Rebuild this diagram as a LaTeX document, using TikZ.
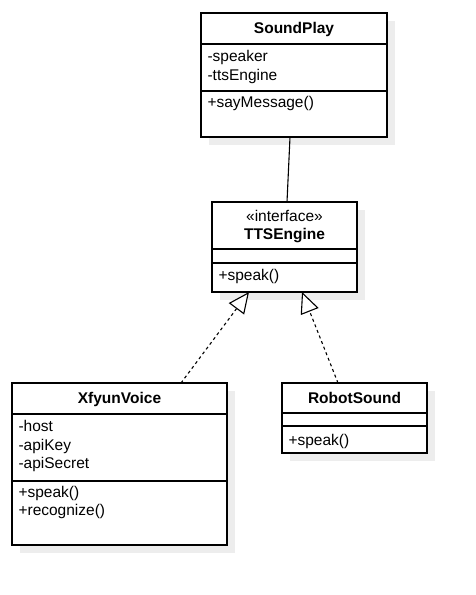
\documentclass[tikz,border=0pt]{standalone}
\usepackage{fontspec}
\setmainfont{Liberation Sans}
\usetikzlibrary{arrows.meta}
\begin{document}
\begin{tikzpicture}[x=1pt,y=-1pt,line width=1.1pt,
  box/.style={draw=black,fill=white,anchor=north west,inner sep=0pt,outer sep=0pt},
  shade/.style={fill=black!7,draw=none},
  lbl/.style={anchor=base west,inner sep=0pt,font=\fontsize{15.5}{18}\selectfont},
  ttl/.style={anchor=base,inner sep=0pt,font=\fontsize{15.5}{18}\selectfont\bfseries},
  stereo/.style={anchor=base,inner sep=0pt,font=\fontsize{15.5}{18}\selectfont},
  realize/.style={dash pattern=on 3pt off 3pt,-{Triangle[open,fill=white,length=21pt,width=19pt,line width=1.1pt]}}
]
\useasboundingbox (0,0) rectangle (476,595);
% shadows
\fill[shade] (209,21) rectangle (395,145);
\fill[shade] (220,210) rectangle (365,300);
\fill[shade] (20,391) rectangle (235,553);
\fill[shade] (290,391) rectangle (435,461);
% SoundPlay
\node[box,minimum width=186pt,minimum height=124pt] (sp) at (201,13) {};
\draw ([yshift=-31pt]sp.north west) -- ([yshift=-31pt]sp.north east);
\draw ([yshift=-78pt]sp.north west) -- ([yshift=-78pt]sp.north east);
\node[ttl] (spt) at (294,33) {SoundPlay};
\node[lbl] (sp1) at (207,61.5) {-speaker};
\node[lbl] (sp2) at (207,80) {-ttsEngine};
\node[lbl] (sp3) at (207,107) {+sayMessage()};
% TTSEngine
\node[box,minimum width=145pt,minimum height=90pt] (tts) at (212,202) {};
\draw ([yshift=-47pt]tts.north west) -- ([yshift=-47pt]tts.north east);
\draw ([yshift=-61pt]tts.north west) -- ([yshift=-61pt]tts.north east);
\node[stereo] (ttss) at (284.5,221.5) {«interface»};
\node[ttl] (ttst) at (284.5,239) {TTSEngine};
\node[lbl] (tts1) at (218,280.5) {+speak()};
% XfyunVoice
\node[box,minimum width=215pt,minimum height=162pt] (xv) at (12,383) {};
\draw ([yshift=-31pt]xv.north west) -- ([yshift=-31pt]xv.north east);
\draw ([yshift=-98pt]xv.north west) -- ([yshift=-98pt]xv.north east);
\node[ttl] (xvt) at (119.5,403) {XfyunVoice};
\node[lbl] (xv1) at (18,431.5) {-host};
\node[lbl] (xv2) at (18,450) {-apiKey};
\node[lbl] (xv3) at (18,468.5) {-apiSecret};
\node[lbl] (xv4) at (18,497) {+speak()};
\node[lbl] (xv5) at (18,515.5) {+recognize()};
% RobotSound
\node[box,minimum width=145pt,minimum height=70pt] (rs) at (282,383) {};
\draw ([yshift=-30pt]rs.north west) -- ([yshift=-30pt]rs.north east);
\draw ([yshift=-43pt]rs.north west) -- ([yshift=-43pt]rs.north east);
\node[ttl] (rst) at (354.5,403) {RobotSound};
\node[lbl] (rs1) at (288,445) {+speak()};
% connectors
\draw ([xshift=-4pt]sp.south) -- ([xshift=2.5pt]tts.north);
\draw[realize] ([xshift=61.5pt]xv.north) -- ([xshift=-35.5pt]tts.south);
\draw[realize] ([xshift=-16.5pt]rs.north) -- ([xshift=17.5pt]tts.south);
\end{tikzpicture}
\end{document}
